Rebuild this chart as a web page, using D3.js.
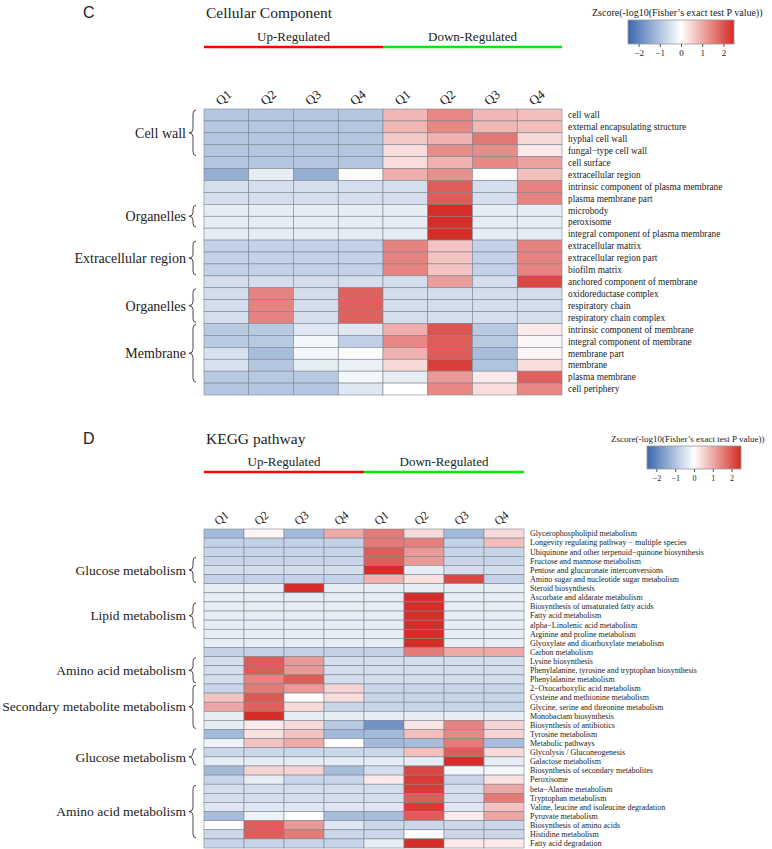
<!DOCTYPE html>
<html>
<head>
<meta charset="utf-8">
<script src="https://cdn.jsdelivr.net/npm/d3@7"></script>
<style>
  body { margin: 0; background: #fff; }
  svg text { font-family: "Liberation Serif", "DejaVu Serif", serif; fill: #222; }
</style>
</head>
<body>
<svg width="772" height="849"></svg>
<script>
// ---- data ----
var colLabels = ["Q1", "Q2", "Q3", "Q4", "Q1", "Q2", "Q3", "Q4"];

var ccTerms = ["cell wall", "external encapsulating structure", "hyphal cell wall", "fungal\u2212type cell wall",
  "cell surface", "extracellular region", "intrinsic component of plasma membrane", "plasma membrane part",
  "microbody", "peroxisome", "integral component of plasma membrane", "extracellular matrix",
  "extracellular region part", "biofilm matrix", "anchored component of membrane", "oxidoreductase complex",
  "respiratory chain", "respiratory chain complex", "intrinsic component of membrane",
  "integral component of membrane", "membrane part", "membrane", "plasma membrane", "cell periphery"];

var ccZ = [
  [-0.95, -0.95, -0.95, -0.95, 0.85, 1.4, 0.85, 0.75],
  [-0.95, -0.95, -0.95, -0.95, 0.85, 1.4, 0.85, 0.75],
  [-0.95, -0.95, -0.95, -0.95, 0.65, 0.9, 1.6, 0.45],
  [-0.95, -0.95, -0.95, -0.95, 0.4, 1.35, 1.35, 0.25],
  [-0.95, -0.95, -0.95, -0.95, 0.4, 0.9, 1.4, 1.1],
  [-1.35, -0.3, -1.35, 0.05, 0.95, 1.3, 0.02, 0.75],
  [-0.55, -0.55, -0.55, -0.55, -0.55, 1.9, -0.55, 1.45],
  [-0.55, -0.55, -0.55, -0.55, -0.55, 1.9, -0.55, 1.45],
  [-0.3, -0.3, -0.3, -0.3, -0.3, 2.45, -0.3, -0.3],
  [-0.3, -0.3, -0.3, -0.3, -0.3, 2.45, -0.3, -0.3],
  [-0.3, -0.3, -0.3, -0.3, -0.3, 2.45, -0.3, -0.3],
  [-0.75, -0.75, -0.75, -0.75, 1.45, 0.7, -0.75, 1.45],
  [-0.75, -0.75, -0.75, -0.75, 1.45, 0.7, -0.75, 1.45],
  [-0.75, -0.75, -0.75, -0.75, 1.45, 0.7, -0.75, 1.45],
  [-0.55, -0.55, -0.55, -0.55, -0.55, 1.15, -0.55, 2.15],
  [-0.55, 1.45, -0.55, 1.85, -0.55, -0.55, -0.55, -0.55],
  [-0.55, 1.45, -0.55, 1.85, -0.55, -0.55, -0.55, -0.55],
  [-0.55, 1.45, -0.55, 1.85, -0.55, -0.55, -0.55, -0.55],
  [-0.9, -0.9, -0.4, -0.4, 0.95, 2.0, -0.9, 0.25],
  [-0.9, -0.9, -0.15, -0.8, 1.4, 1.9, -0.9, 0.1],
  [-0.5, -1.1, -0.15, 0.05, 0.9, 1.9, -1.1, 0.12],
  [-0.5, -0.95, -0.3, -0.25, 0.45, 2.25, -1.0, 0.4],
  [-0.9, -0.9, -0.9, -0.15, -0.3, 1.2, 0.25, 1.85],
  [-0.95, -0.95, -0.95, -0.4, 0.0, 1.4, 0.4, 1.4]
];

// [label, first row, last row]
var ccGroups = [["Cell wall", 0, 3], ["Organelles", 8, 9], ["Extracellular region", 11, 13],
  ["Organelles", 15, 17], ["Membrane", 18, 22]];

var keggTerms = ["Glycerophospholipid metabolism", "Longevity regulating pathway \u2212 multiple species",
  "Ubiquinone and other terpenoid\u2212quinone biosynthesis", "Fructose and mannose metabolism",
  "Pentose and glucuronate interconversions", "Amino sugar and nucleotide sugar metabolism",
  "Steroid biosynthesis", "Ascorbate and aldarate metabolism", "Biosynthesis of unsaturated fatty acids",
  "Fatty acid metabolism", "alpha\u2212Linolenic acid metabolism", "Arginine and proline metabolism",
  "Glyoxylate and dicarboxylate metabolism", "Carbon metabolism", "Lysine biosynthesis",
  "Phenylalanine, tyrosine and tryptophan biosynthesis", "Phenylalanine metabolism",
  "2\u2212Oxocarboxylic acid metabolism", "Cysteine and methionine metabolism",
  "Glycine, serine and threonine metabolism", "Monobactam biosynthesis", "Biosynthesis of antibiotics",
  "Tyrosine metabolism", "Metabolic pathways", "Glycolysis / Gluconeogenesis", "Galactose metabolism",
  "Biosynthesis of secondary metabolites", "Peroxisome", "beta\u2212Alanine metabolism",
  "Tryptophan metabolism", "Valine, leucine and isoleucine degradation", "Pyruvate metabolism",
  "Biosynthesis of amino acids", "Histidine metabolism", "Fatty acid degradation"];

var keggZ = [
  [-1.15, 0.12, -1.15, 1.0, 1.55, 0.45, -1.15, 0.45],
  [-0.75, -0.75, -0.75, -0.75, 1.55, 1.5, -0.75, 0.75],
  [-0.7, -0.7, -0.7, -0.7, 1.9, 1.2, -0.7, -0.7],
  [-0.7, -0.7, -0.7, -0.7, 1.9, 1.2, -0.7, -0.7],
  [-0.55, -0.55, -0.55, -0.55, 2.45, -0.3, -0.55, -0.55],
  [-0.75, -0.75, -0.75, -0.75, 0.9, 0.35, 2.15, -0.75],
  [-0.3, -0.3, 2.45, -0.3, -0.3, -0.3, -0.3, -0.3],
  [-0.3, -0.3, -0.3, -0.3, -0.3, 2.45, -0.3, -0.3],
  [-0.3, -0.3, -0.3, -0.3, -0.3, 2.45, -0.3, -0.3],
  [-0.3, -0.3, -0.3, -0.3, -0.3, 2.45, -0.3, -0.3],
  [-0.3, -0.3, -0.3, -0.3, -0.3, 2.45, -0.3, -0.3],
  [-0.3, -0.3, -0.3, -0.3, -0.3, 2.45, -0.3, -0.3],
  [-0.3, -0.3, -0.3, -0.3, -0.3, 2.45, -0.3, -0.3],
  [-0.75, -0.75, -0.75, -0.75, -0.75, 1.55, 1.0, 1.0],
  [-0.55, 1.9, 1.2, -0.55, -0.55, -0.55, -0.55, -0.55],
  [-0.55, 1.9, 1.2, -0.55, -0.55, -0.55, -0.55, -0.55],
  [-0.55, 1.45, 1.9, -0.55, -0.55, -0.55, -0.55, -0.55],
  [-0.7, 1.55, 1.2, 0.5, -0.7, -0.7, -0.7, -0.7],
  [0.7, 1.95, 0.05, 0.4, -0.7, -0.7, -0.7, -0.7],
  [1.05, 1.85, 0.45, -0.7, -0.7, -0.7, -0.7, -0.7],
  [-0.3, 2.45, -0.3, -0.3, -0.3, -0.3, -0.3, -0.3],
  [-0.3, 0.25, 0.45, -0.9, -1.8, 0.3, 1.45, 0.5],
  [-1.15, 0.35, 0.7, -1.15, -1.15, 0.75, 1.4, 0.5],
  [-0.2, 0.7, 1.0, 0.02, -1.15, -1.1, 1.55, -1.1],
  [-0.65, -0.65, -0.65, -0.65, -0.65, 0.75, 1.9, 0.45],
  [-0.3, -0.3, -0.3, -0.3, -0.3, -0.3, 2.45, -0.3],
  [-1.15, 0.5, 0.5, -1.1, -0.55, 2.15, -0.15, -0.15],
  [-0.7, -0.3, -0.7, -0.7, 0.25, 2.3, -0.7, 0.35],
  [-0.55, -0.55, -0.55, -0.55, -0.55, 2.3, -0.55, 1.05],
  [-0.55, -0.55, -0.55, -0.55, -0.55, 1.9, -0.55, 1.55],
  [-0.4, -0.4, -0.4, -0.4, -0.4, 2.3, -0.4, 0.7],
  [-1.1, -0.2, -0.02, -1.1, -1.1, 1.9, 0.25, 1.05],
  [0.0, 1.9, 1.2, -0.4, -0.65, -0.65, -0.65, -0.65],
  [-0.65, 1.9, 1.55, -0.65, -0.65, 0.0, -0.65, -0.65],
  [-0.7, -0.7, -0.7, -0.7, -0.3, 2.45, 0.25, 0.25]
];

var keggGroups = [["Glucose metabolism", 3, 5], ["Lipid metabolism", 8, 10], ["Amino acid metabolism", 14, 16],
  ["Secondary metabolite metabolism", 17, 21], ["Glucose metabolism", 24, 25], ["Amino acid metabolism", 28, 33]];

var legendTicks = [-2, -1, 0, 1, 2];

// ---- drawing ----
var svg = d3.select("svg");

var color = d3.scaleLinear()
    .domain([-2.5, 0, 2.5])
    .range(["#3a68ae", "#ffffff", "#d42a24"])
    .clamp(true);

// gradient for the legends
var grad = svg.append("defs").append("linearGradient")
    .attr("id", "zgrad")
    .attr("x1", "0%").attr("x2", "100%");
d3.range(0, 1.0001, 0.05).forEach(t => {
    grad.append("stop")
        .attr("offset", (t * 100) + "%")
        .attr("stop-color", color(-2.5 + 5 * t));
});

function bracePath(x, y0, y1) {
    var ym = (y0 + y1) / 2;
    return "M" + (x + 3) + "," + y0 +
        " Q" + x + "," + y0 + " " + x + "," + (y0 + 4) +
        " L" + x + "," + (ym - 4) +
        " Q" + x + "," + ym + " " + (x - 4) + "," + ym +
        " Q" + x + "," + ym + " " + x + "," + (ym + 4) +
        " L" + x + "," + (y1 - 4) +
        " Q" + x + "," + y1 + " " + (x + 3) + "," + y1;
}

function drawPanel(p) {
    var g = svg.append("g");

    // letter + title
    g.append("text")
        .attr("x", 83).attr("y", p.titleY)
        .style("font-family", "'Liberation Sans', Arial, sans-serif")
        .style("font-size", "16px")
        .text(p.letter);
    g.append("text")
        .attr("x", 206).attr("y", p.titleY)
        .style("font-size", "15.5px")
        .text(p.title);

    // up / down header
    var mid = (p.x0 + p.x1) / 2;
    g.append("line")
        .attr("x1", p.x0).attr("x2", mid)
        .attr("y1", p.barY).attr("y2", p.barY)
        .attr("stroke", "#ff0000").attr("stroke-width", 2.5);
    g.append("line")
        .attr("x1", mid).attr("x2", p.x1)
        .attr("y1", p.barY).attr("y2", p.barY)
        .attr("stroke", "#00ee00").attr("stroke-width", 2.5);
    g.append("text")
        .attr("x", (p.x0 + mid) / 2).attr("y", p.barY - 6)
        .attr("text-anchor", "middle")
        .style("font-size", "13px")
        .text("Up-Regulated");
    g.append("text")
        .attr("x", (mid + p.x1) / 2).attr("y", p.barY - 6)
        .attr("text-anchor", "middle")
        .style("font-size", "13px")
        .text("Down-Regulated");

    // legend
    var lx = d3.scaleLinear().domain([-2.5, 2.5]).range([p.legX0, p.legX1]);
    g.append("text")
        .attr("x", p.legTitleX).attr("y", p.titleY - 2)
        .style("font-size", p.legTitleFont + "px")
        .text("Zscore(-log10(Fisher\u2019s exact test P value))");
    g.append("rect")
        .attr("x", p.legX0).attr("y", p.legY)
        .attr("width", p.legX1 - p.legX0).attr("height", p.legH)
        .attr("fill", "url(#zgrad)")
        .attr("stroke", "#999").attr("stroke-width", 0.8);
    var ax = g.append("g")
        .attr("transform", "translate(0," + (p.legY + p.legH) + ")")
        .call(d3.axisBottom(lx).tickValues(legendTicks).tickSize(3).tickFormat(d => d < 0 ? "\u2212" + (-d) : d));
    ax.select(".domain").remove();
    ax.selectAll("line").attr("stroke", "#555");
    ax.selectAll("text")
        .style("font-family", "'Liberation Serif', serif")
        .style("font-size", p.legFont + "px")
        .attr("fill", "#222");

    // heatmap
    var x = d3.scaleBand().domain(d3.range(colLabels.length)).range([p.x0, p.x1]);
    var y = d3.scaleBand().domain(d3.range(p.terms.length)).range([p.y0, p.y1]);

    var cells = [];
    p.z.forEach((row, i) => row.forEach((v, j) => cells.push({ i: i, j: j, v: v })));

    g.append("g").selectAll("rect")
        .data(cells)
        .enter().append("rect")
        .attr("x", d => x(d.j))
        .attr("y", d => y(d.i))
        .attr("width", x.bandwidth())
        .attr("height", y.bandwidth())
        .attr("fill", d => color(d.v))
        .attr("stroke", "#7d8590")
        .attr("stroke-width", 0.6);

    // column labels
    g.append("g").selectAll("text")
        .data(colLabels)
        .enter().append("text")
        .attr("transform", (d, j) => "translate(" + (x(j) + x.bandwidth() / 2) + "," + (p.y0 - 8) + ") rotate(-40)")
        .attr("text-anchor", "middle")
        .style("font-size", p.colFont + "px")
        .text(d => d);

    // row labels
    g.append("g").selectAll("text")
        .data(p.terms)
        .enter().append("text")
        .attr("x", p.x1 + 6)
        .attr("y", (d, i) => y(i) + y.bandwidth() / 2)
        .attr("dy", "0.35em")
        .style("font-size", p.rowFont + "px")
        .text(d => d);

    // group braces
    var gg = g.append("g").selectAll("g")
        .data(p.groups)
        .enter().append("g");
    gg.append("path")
        .attr("d", d => bracePath(193, y(d[1]) + 1, y(d[2]) + y.bandwidth() - 1))
        .attr("fill", "none")
        .attr("stroke", "#333")
        .attr("stroke-width", 0.9);
    gg.append("text")
        .attr("x", 186)
        .attr("y", d => (y(d[1]) + y(d[2]) + y.bandwidth()) / 2)
        .attr("dy", "0.35em")
        .attr("text-anchor", "end")
        .style("font-size", p.groupFont + "px")
        .text(d => d[0]);
}

drawPanel({
    letter: "C", title: "Cellular Component", titleY: 18,
    barY: 47, x0: 204, x1: 562, y0: 109, y1: 395,
    terms: ccTerms, z: ccZ, groups: ccGroups,
    legX0: 628, legX1: 734, legY: 20, legH: 24, legTitleX: 592, legTitleFont: 10, legFont: 9,
    colFont: 13, rowFont: 9.3, groupFont: 14
});

drawPanel({
    letter: "D", title: "KEGG pathway", titleY: 444,
    barY: 472, x0: 204, x1: 524, y0: 529, y1: 848,
    terms: keggTerms, z: keggZ, groups: keggGroups,
    legX0: 647, legX1: 741, legY: 446, legH: 23, legTitleX: 611, legTitleFont: 9, legFont: 8,
    colFont: 12, rowFont: 8, groupFont: 13.5
});
</script>
</body>
</html>
